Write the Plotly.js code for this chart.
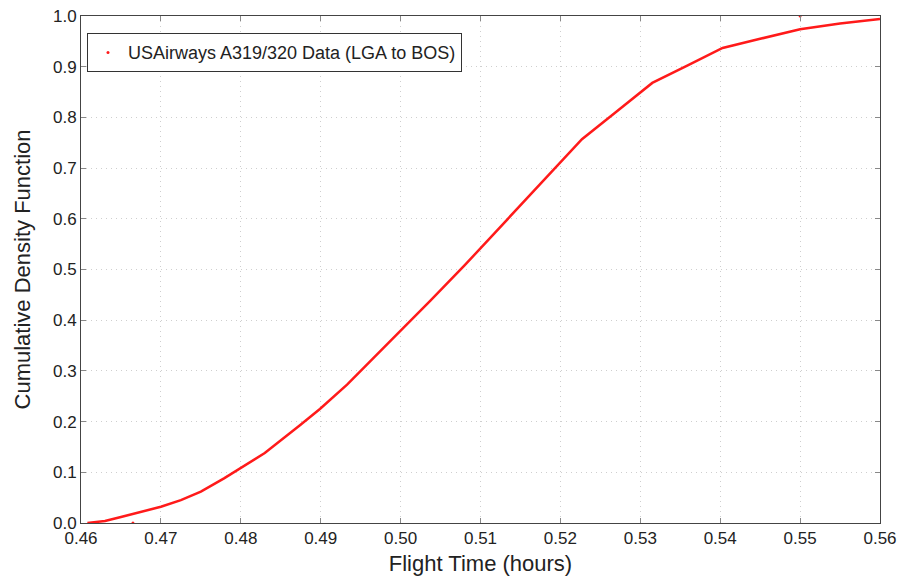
<!DOCTYPE html>
<html>
<head>
<meta charset="utf-8">
<script src="https://cdn.plot.ly/plotly-3.0.1.min.js"></script>
<style>html,body{margin:0;padding:0;background:#fff}#chart{width:899px;height:578px}</style>
</head>
<body>
<div id="chart"></div>
<script>
const flightTime = [0.4608, 0.4630, 0.4650, 0.4666, 0.4700, 0.4725, 0.4750, 0.4779, 0.4800, 0.4830, 0.4874, 0.4899, 0.4933, 0.4970, 0.5000, 0.5037, 0.5080, 0.5112, 0.5150, 0.5200, 0.5227, 0.5270, 0.5315, 0.5360, 0.5403, 0.5450, 0.5500, 0.5550, 0.5600];
const cdf = [0, 0.004, 0.012, 0.018, 0.032, 0.045, 0.062, 0.088, 0.108, 0.138, 0.193, 0.225, 0.273, 0.331, 0.378, 0.438, 0.508, 0.562, 0.626, 0.711, 0.757, 0.811, 0.868, 0.903, 0.937, 0.955, 0.974, 0.985, 0.994];
const dataX = [0.4665, 0.5500];
const dataY = [0.0, 1.0];
const xTicks = [0.46, 0.47, 0.48, 0.49, 0.50, 0.51, 0.52, 0.53, 0.54, 0.55, 0.56];
const yTicks = [0, 0.1, 0.2, 0.3, 0.4, 0.5, 0.6, 0.7, 0.8, 0.9, 1.0];
const seriesName = 'USAirways A319/320 Data (LGA to BOS)';

const traces = [
  {x: flightTime, y: cdf, mode: 'lines', line: {color: '#ff1a1a', width: 2.5}, showlegend: false, cliponaxis: true},
  {x: dataX, y: dataY, mode: 'markers', marker: {color: '#ff1a1a', size: 3}, name: seriesName, cliponaxis: true}
];
const axisCommon = {
  showline: true, linecolor: '#444', linewidth: 1, mirror: 'ticks',
  ticks: 'inside', ticklen: 5, tickcolor: '#888',
  showgrid: true, gridcolor: '#cfcfcf', griddash: '1px,4px', gridwidth: 1,
  zeroline: false, tickfont: {family: 'Liberation Sans, Arial, sans-serif', size: 17, color: '#222'}
};
const layout = {
  width: 899, height: 578,
  margin: {l: 81, r: 19, t: 16, b: 55},
  paper_bgcolor: '#fff', plot_bgcolor: '#fff',
  font: {family: 'Liberation Sans, Arial, sans-serif', color: '#222'},
  xaxis: Object.assign({}, axisCommon, {
    range: [0.46, 0.56], tickvals: xTicks, ticktext: xTicks.map(v => v.toFixed(2)),
    title: {text: 'Flight Time (hours)', font: {size: 22, color: '#222'}, standoff: 8}
  }),
  yaxis: Object.assign({}, axisCommon, {
    range: [0, 1.0], tickvals: yTicks, ticktext: yTicks.map(v => v.toFixed(1)),
    title: {text: 'Cumulative Density Function', font: {size: 22, color: '#222'}, standoff: 16}
  }),
  legend: {
    x: 0.0075, y: 0.966, xanchor: 'left', yanchor: 'top',
    bordercolor: '#333', borderwidth: 1, bgcolor: '#fff',
    font: {size: 18, color: '#222'}
  },
  showlegend: true
};
Plotly.newPlot('chart', traces, layout, {displayModeBar: false, staticPlot: true});
</script>
</body>
</html>
